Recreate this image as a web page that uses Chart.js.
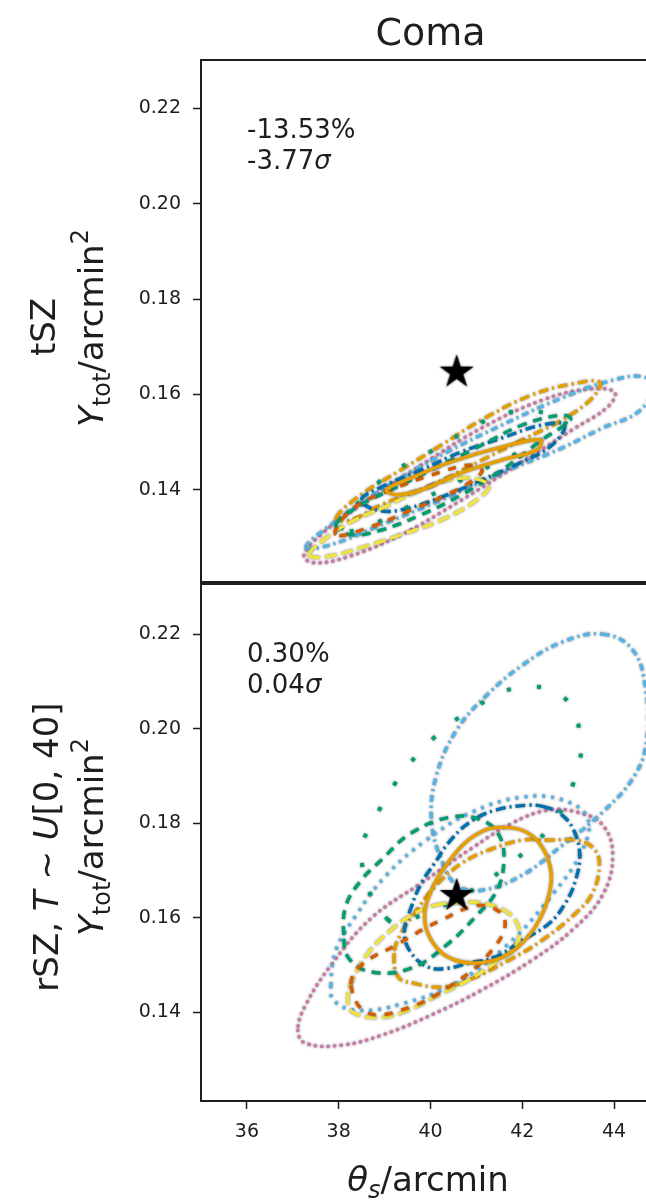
<!DOCTYPE html>
<html>
<head>
<meta charset="utf-8">
<script src="https://cdn.jsdelivr.net/npm/chart.js@4.4.1/dist/chart.umd.min.js"></script>
<style>
    html, body { margin: 0; padding: 0; background: #fff; overflow: hidden; }
    #wrap { position: relative; width: 646px; height: 1200px; overflow: hidden; }
    canvas { position: absolute; left: 0; }
    #topChart { top: 0; }
    #bottomChart { top: 560px; }
</style>
</head>
<body>
<div id="wrap">
    <canvas id="bottomChart" width="680" height="640"></canvas>
    <canvas id="topChart" width="680" height="606"></canvas>
</div>
<script>
// axes
var xRange = [35, 45];
var xTicks = [36, 38, 40, 42, 44];
var yTicks = [0.14, 0.16, 0.18, 0.20, 0.22];
var topYRange = [0.1207, 0.2301];
var bottomYRange = [0.1212, 0.2306];

// true value (star)
var starX = [40.57];
var starY = [0.165];

// ---- tSZ panel contours ----
var topPinkX = [37.24, 37.61, 38.49, 39.80, 41.12, 42.43, 43.42, 44.01, 43.86, 43.09, 42.00, 40.68, 39.36, 38.27, 37.50];
var topPinkY = [0.1262, 0.1306, 0.1369, 0.1452, 0.1530, 0.1588, 0.1611, 0.1605, 0.1574, 0.1526, 0.1459, 0.1379, 0.1306, 0.1262, 0.1247];
var topSkyX = [37.28, 37.83, 38.93, 40.24, 41.56, 42.87, 43.97, 44.63, 44.85, 44.52, 43.75, 42.87, 41.56, 40.24, 38.93, 37.83];
var topSkyY = [0.1279, 0.1327, 0.1400, 0.1473, 0.1536, 0.1593, 0.1630, 0.1637, 0.1614, 0.1563, 0.1530, 0.1488, 0.1436, 0.1379, 0.1327, 0.1285];
var topOrangeDdX = [37.94, 38.49, 39.36, 40.24, 41.12, 42.21, 43.09, 43.68, 43.53, 42.87, 42.00, 41.05, 40.02, 38.93, 38.27];
var topOrangeDdY = [0.1341, 0.1390, 0.1442, 0.1494, 0.1547, 0.1599, 0.1622, 0.1626, 0.1593, 0.1547, 0.1505, 0.1459, 0.1410, 0.1369, 0.1337];
var topBlueX = [38.49, 38.93, 39.80, 40.68, 41.56, 42.43, 42.92, 42.65, 42.00, 41.12, 40.24, 39.36, 38.82];
var topBlueY = [0.1379, 0.1406, 0.1442, 0.1480, 0.1509, 0.1536, 0.1536, 0.1494, 0.1459, 0.1421, 0.1385, 0.1358, 0.1358];
var topGreenX = [37.94, 38.49, 39.14, 40.02, 41.12, 42.00, 42.87, 43.05, 42.43, 41.56, 40.68, 39.80, 38.93, 38.27];
var topGreenY = [0.1327, 0.1369, 0.1400, 0.1442, 0.1494, 0.1536, 0.1557, 0.1547, 0.1505, 0.1442, 0.1390, 0.1348, 0.1316, 0.1306];
var topOrangeX = [39.04, 39.58, 40.46, 41.56, 42.39, 42.32, 41.56, 40.68, 39.80, 39.25];
var topOrangeY = [0.1400, 0.1425, 0.1459, 0.1490, 0.1505, 0.1484, 0.1463, 0.1436, 0.1400, 0.1390];
var topYellowX = [37.35, 37.72, 38.27, 38.99, 39.80, 40.68, 41.27, 41.01, 40.24, 39.36, 38.49, 37.72];
var topYellowY = [0.1264, 0.1299, 0.1333, 0.1364, 0.1400, 0.1425, 0.1410, 0.1379, 0.1337, 0.1306, 0.1279, 0.1260];
var topRedX = [37.94, 38.27, 39.14, 40.24, 40.90, 41.12, 40.57, 39.58, 38.71];
var topRedY = [0.1306, 0.1358, 0.1400, 0.1438, 0.1452, 0.1438, 0.1400, 0.1358, 0.1323];
var topGreenDotX = [38.05, 38.93, 39.87, 40.75, 41.71, 42.94, 42.43, 41.12, 39.80, 38.71];
var topGreenDotY = [0.1316, 0.1421, 0.1473, 0.1521, 0.1563, 0.1547, 0.1505, 0.1442, 0.1379, 0.1327];

// ---- rSZ panel contours ----
var botSkyX = [43.75, 44.41, 44.69, 44.71, 44.45, 43.75, 42.87, 42.00, 41.12, 40.57, 40.24, 40.02, 40.13, 40.57, 41.23, 42.00, 42.87];
var botSkyY = [0.2200, 0.2166, 0.2081, 0.1976, 0.1901, 0.1823, 0.1753, 0.1690, 0.1658, 0.1669, 0.1722, 0.1806, 0.1901, 0.1997, 0.2071, 0.2134, 0.2183];
var botSkyDotX = [37.83, 37.94, 38.38, 39.04, 39.91, 40.90, 42.00, 42.87, 43.42, 43.31, 42.65, 41.67, 40.57, 39.36, 38.38, 37.89];
var botSkyDotY = [0.1457, 0.1531, 0.1605, 0.1690, 0.1764, 0.1823, 0.1855, 0.1849, 0.1811, 0.1743, 0.1648, 0.1542, 0.1463, 0.1417, 0.1404, 0.1425];
var botPinkX = [37.11, 37.28, 38.05, 38.93, 40.02, 41.12, 42.21, 43.09, 43.75, 43.97, 43.75, 43.20, 42.54, 41.78, 40.90, 39.80, 38.71, 37.83, 37.28];
var botPinkY = [0.1362, 0.1334, 0.1330, 0.1351, 0.1394, 0.1447, 0.1510, 0.1574, 0.1648, 0.1732, 0.1796, 0.1823, 0.1827, 0.1800, 0.1747, 0.1673, 0.1599, 0.1499, 0.1415];
var botBlueX = [42.50, 42.15, 41.40, 40.83, 40.39, 40.09, 39.80, 39.58, 39.43, 39.58, 39.96, 40.39, 40.83, 41.40, 42.00, 42.59, 42.94, 43.16, 43.25, 43.09, 42.81];
var botBlueY = [0.1834, 0.1838, 0.1827, 0.1800, 0.1758, 0.1715, 0.1673, 0.1622, 0.1567, 0.1525, 0.1495, 0.1493, 0.1504, 0.1516, 0.1552, 0.1588, 0.1631, 0.1679, 0.1736, 0.1791, 0.1821];
var botOrangeDdX = [39.21, 39.30, 39.65, 40.24, 40.83, 41.71, 42.43, 43.16, 43.53, 43.68, 43.53, 43.16, 42.59, 42.00, 41.27, 40.68, 40.09, 39.65, 39.36];
var botOrangeDdY = [0.1525, 0.1474, 0.1461, 0.1453, 0.1468, 0.1510, 0.1552, 0.1609, 0.1652, 0.1715, 0.1749, 0.1764, 0.1764, 0.1764, 0.1743, 0.1715, 0.1665, 0.1609, 0.1567];
var botOrangeX = [41.49, 42.00, 42.37, 42.61, 42.59, 42.37, 42.00, 41.56, 40.96, 40.39, 40.02, 39.87, 40.02, 40.31, 40.75, 41.18];
var botOrangeY = [0.1791, 0.1785, 0.1758, 0.1707, 0.1652, 0.1595, 0.1546, 0.1516, 0.1504, 0.1516, 0.1552, 0.1601, 0.1658, 0.1707, 0.1758, 0.1785];
var botYellowX = [40.09, 40.53, 41.12, 41.71, 41.93, 41.84, 41.49, 40.83, 40.09, 39.52, 38.93, 38.33, 38.20, 38.27, 38.64, 39.14, 39.65];
var botYellowY = [0.1626, 0.1631, 0.1631, 0.1609, 0.1574, 0.1538, 0.1510, 0.1468, 0.1432, 0.1404, 0.1389, 0.1398, 0.1425, 0.1461, 0.1525, 0.1574, 0.1609];
var botGreenX = [38.11, 38.16, 38.49, 38.93, 39.58, 40.46, 41.12, 41.49, 41.60, 41.45, 41.01, 40.35, 39.58, 38.71, 38.22];
var botGreenY = [0.1563, 0.1626, 0.1679, 0.1722, 0.1779, 0.1813, 0.1806, 0.1775, 0.1722, 0.1658, 0.1605, 0.1542, 0.1493, 0.1485, 0.1514];
var botGreenDotX = [39.08, 38.49, 38.86, 39.41, 40.09, 40.94, 41.89, 42.87, 43.27, 43.09, 42.59, 41.84, 40.90, 39.80];
var botGreenDotY = [0.1595, 0.1728, 0.1823, 0.1908, 0.1982, 0.2043, 0.2086, 0.2069, 0.1978, 0.1878, 0.1791, 0.1722, 0.1658, 0.1605];
var botRedX = [38.27, 38.60, 39.36, 40.46, 41.34, 41.62, 41.12, 40.24, 39.25, 38.49];
var botRedY = [0.1457, 0.1400, 0.1404, 0.1457, 0.1531, 0.1595, 0.1626, 0.1595, 0.1542, 0.1499];

var ORANGE = '#E69F00', SKY = '#56B4E9', GREEN = '#009E73', YELLOW = '#F0E442',
    BLUE = '#0072B2', RED = '#D55E00', PINK = '#CC79A7';
var FONT = '"DejaVu Sans"';
var INK = '#1e1e1e';

Chart.defaults.font.family = FONT;

function toPoints(xs, ys) {
    return xs.map(function (x, i) { return { x: x, y: ys[i] }; });
}

function contour(xs, ys, color, dash, cap, width) {
    return {
        data: toPoints(xs, ys),
        showLine: true,
        borderColor: color,
        borderWidth: width || 3.4,
        borderDash: dash,
        borderCapStyle: cap || 'butt',
        tension: 0.4,
        spanGaps: true,
        pointRadius: 0,
        closed: true
    };
}

function starImage(size) {
    var c = document.createElement('canvas');
    c.width = size; c.height = size;
    var g = c.getContext('2d');
    var cx = size / 2, cy = size / 2 + size * 0.04, R = size * 0.47, r = R * 0.382;
    g.beginPath();
    for (var i = 0; i < 10; i++) {
        var a = -Math.PI / 2 + i * Math.PI / 5;
        var rad = i % 2 ? r : R;
        g.lineTo(cx + rad * Math.cos(a), cy + rad * Math.sin(a));
    }
    g.closePath();
    g.fillStyle = '#000';
    g.fill();
    return c;
}

function starDataset() {
    return {
        data: toPoints(starX, starY),
        pointStyle: starImage(38),
        pointRadius: 19,
        showLine: false
    };
}

// draw a run of text pieces (regular / italic / sub / sup) from a start point
function drawRuns(ctx, runs, x, y, align) {
    var w = 0;
    runs.forEach(function (r) { ctx.font = r.font; r.w = ctx.measureText(r.t).width; w += r.w; });
    var cx = align === 'center' ? x - w / 2 : x;
    ctx.textAlign = 'left';
    ctx.textBaseline = 'alphabetic';
    runs.forEach(function (r) {
        ctx.font = r.font;
        ctx.fillText(r.t, cx, y + (r.dy || 0));
        cx += r.w;
    });
}

function f(size, italic) { return (italic ? 'italic ' : '') + size + 'px ' + FONT; }

function yLabelRuns() {
    return [
        { t: 'Y', font: f(34, true) },
        { t: 'tot', font: f(24), dy: 7 },
        { t: '/arcmin', font: f(34) },
        { t: '2', font: f(24), dy: -15 }
    ];
}

// closes contour lines and outlines all marks with a grey halo
var contourPlugin = {
    id: 'contour',
    afterDatasetUpdate: function (chart, args) {
        var ds = chart.data.datasets[args.index];
        if (ds.closed) args.meta.dataset._loop = true;
    },
    beforeDatasetsDraw: function (chart) {
        var ctx = chart.ctx;
        ctx.save();
        ctx.shadowColor = 'rgba(70,70,70,0.75)';
        ctx.shadowBlur = 2.5;
    },
    afterDatasetsDraw: function (chart) {
        chart.ctx.restore();
    }
};

var decorPlugin = {
    id: 'decor',
    afterDraw: function (chart, args, opts) {
        var ctx = chart.ctx;
        var a = chart.chartArea;
        ctx.save();
        ctx.strokeStyle = '#1e1e1e';
        ctx.lineWidth = 2;
        ctx.strokeRect(a.left, a.top, a.right - a.left, a.bottom - a.top);

        ctx.fillStyle = INK;
        drawRuns(ctx, [{ t: opts.pct, font: f(26) }], a.left + 46, a.top + 78, 'left');
        drawRuns(ctx, [{ t: opts.sig, font: f(26) }, { t: 'σ', font: f(26, true) }], a.left + 46, a.top + 109, 'left');

        if (opts.title) {
            drawRuns(ctx, [{ t: opts.title, font: f(38) }], (a.left + a.right) / 2, 45, 'center');
        }

        ctx.save();
        ctx.translate(opts.rowX, opts.rowY);
        ctx.rotate(-Math.PI / 2);
        drawRuns(ctx, opts.rowRuns, 0, 0, 'center');
        ctx.restore();

        ctx.save();
        ctx.translate(103, opts.yLabY);
        ctx.rotate(-Math.PI / 2);
        drawRuns(ctx, yLabelRuns(), 0, 0, 'center');
        ctx.restore();

        if (opts.xLabY) {
            drawRuns(ctx, [
                { t: 'θ', font: f(34, true) },
                { t: 's', font: f(24, true), dy: 7 },
                { t: '/arcmin', font: f(34) }
            ], 428, opts.xLabY, 'center');
        }
        ctx.restore();
    }
};

function yAxis(range) {
    return {
        min: range[0],
        max: range[1],
        afterFit: function (axis) { axis.width = 201; },
        afterBuildTicks: function (axis) { axis.ticks = yTicks.map(function (v) { return { value: v }; }); },
        border: { display: false },
        grid: { drawOnChartArea: false, drawTicks: true, tickLength: 8, tickColor: INK, tickWidth: 1.5 },
        ticks: {
            color: INK,
            padding: 12,
            autoSkip: false,
            font: { size: 19 },
            callback: function (v) { return Number(v).toFixed(2); }
        }
    };
}

function xAxis(show) {
    var axis = {
        type: 'linear',
        min: xRange[0],
        max: xRange[1],
        display: show,
        afterBuildTicks: function (axis) { axis.ticks = xTicks.map(function (v) { return { value: v }; }); },
        border: { display: false },
        grid: { drawOnChartArea: false, drawTicks: true, tickLength: 8, tickColor: INK, tickWidth: 1.5 },
        ticks: {
            color: INK,
            padding: 12,
            autoSkip: false,
            maxRotation: 0,
            font: { size: 19 },
            callback: function (v) { return String(v); }
        }
    };
    if (show) {
        axis.afterFit = function (scale) { scale.height = 99; };
    }
    return axis;
}

var topDatasets = [
    starDataset(),
    contour(topOrangeX, topOrangeY, ORANGE, []),
    contour(topRedX, topRedY, RED, [8, 9]),
    contour(topYellowX, topYellowY, YELLOW, [12, 5]),
    contour(topGreenDotX, topGreenDotY, GREEN, [4, 26], 'butt', 4),
    contour(topGreenX, topGreenY, GREEN, [9, 7]),
    contour(topBlueX, topBlueY, BLUE, [10, 4, 2, 4]),
    contour(topOrangeDdX, topOrangeDdY, ORANGE, [10, 4, 2, 4]),
    contour(topSkyX, topSkyY, SKY, [7, 4, 2, 4]),
    contour(topPinkX, topPinkY, PINK, [0.5, 6], 'round')
];

var bottomDatasets = [
    starDataset(),
    contour(botOrangeX, botOrangeY, ORANGE, []),
    contour(botRedX, botRedY, RED, [8, 9]),
    contour(botYellowX, botYellowY, YELLOW, [12, 5]),
    contour(botGreenDotX, botGreenDotY, GREEN, [4, 26], 'butt', 4),
    contour(botGreenX, botGreenY, GREEN, [9, 7]),
    contour(botBlueX, botBlueY, BLUE, [10, 4, 2, 4]),
    contour(botOrangeDdX, botOrangeDdY, ORANGE, [10, 4, 2, 4]),
    contour(botSkyDotX, botSkyDotY, SKY, [3, 6]),
    contour(botSkyX, botSkyY, SKY, [7, 4, 2, 4]),
    contour(botPinkX, botPinkY, PINK, [0.5, 6], 'round')
];

function baseOptions() {
    return {
        responsive: false,
        animation: false,
        devicePixelRatio: 1,
        plugins: { legend: { display: false }, tooltip: { enabled: false } }
    };
}

var topOptions = baseOptions();
topOptions.layout = { padding: { left: 0, top: 60, right: 20, bottom: 24 } };
topOptions.scales = { x: xAxis(false), y: yAxis(topYRange) };
topOptions.plugins.decor = {
    pct: '-13.53%', sig: '-3.77', title: 'Coma',
    rowX: 55, rowY: 327, rowRuns: [{ t: 'tSZ', font: f(34) }],
    yLabY: 328
};

var bottomOptions = baseOptions();
bottomOptions.layout = { padding: { left: 0, top: 24, right: 20, bottom: 0 } };
bottomOptions.scales = { x: xAxis(true), y: yAxis(bottomYRange) };
bottomOptions.plugins.decor = {
    pct: '0.30%', sig: '0.04',
    rowX: 58, rowY: 287,
    rowRuns: [
        { t: 'rSZ, ', font: f(34) },
        { t: 'T', font: f(34, true) },
        { t: ' ∼ ', font: f(34) },
        { t: 'U', font: f(34, true) },
        { t: '[0, 40]', font: f(34) }
    ],
    yLabY: 277,
    xLabY: 631
};

new Chart(document.getElementById('topChart').getContext('2d'), {
    type: 'scatter',
    data: { datasets: topDatasets },
    options: topOptions,
    plugins: [contourPlugin, decorPlugin]
});

new Chart(document.getElementById('bottomChart').getContext('2d'), {
    type: 'scatter',
    data: { datasets: bottomDatasets },
    options: bottomOptions,
    plugins: [contourPlugin, decorPlugin]
});
</script>
</body>
</html>
